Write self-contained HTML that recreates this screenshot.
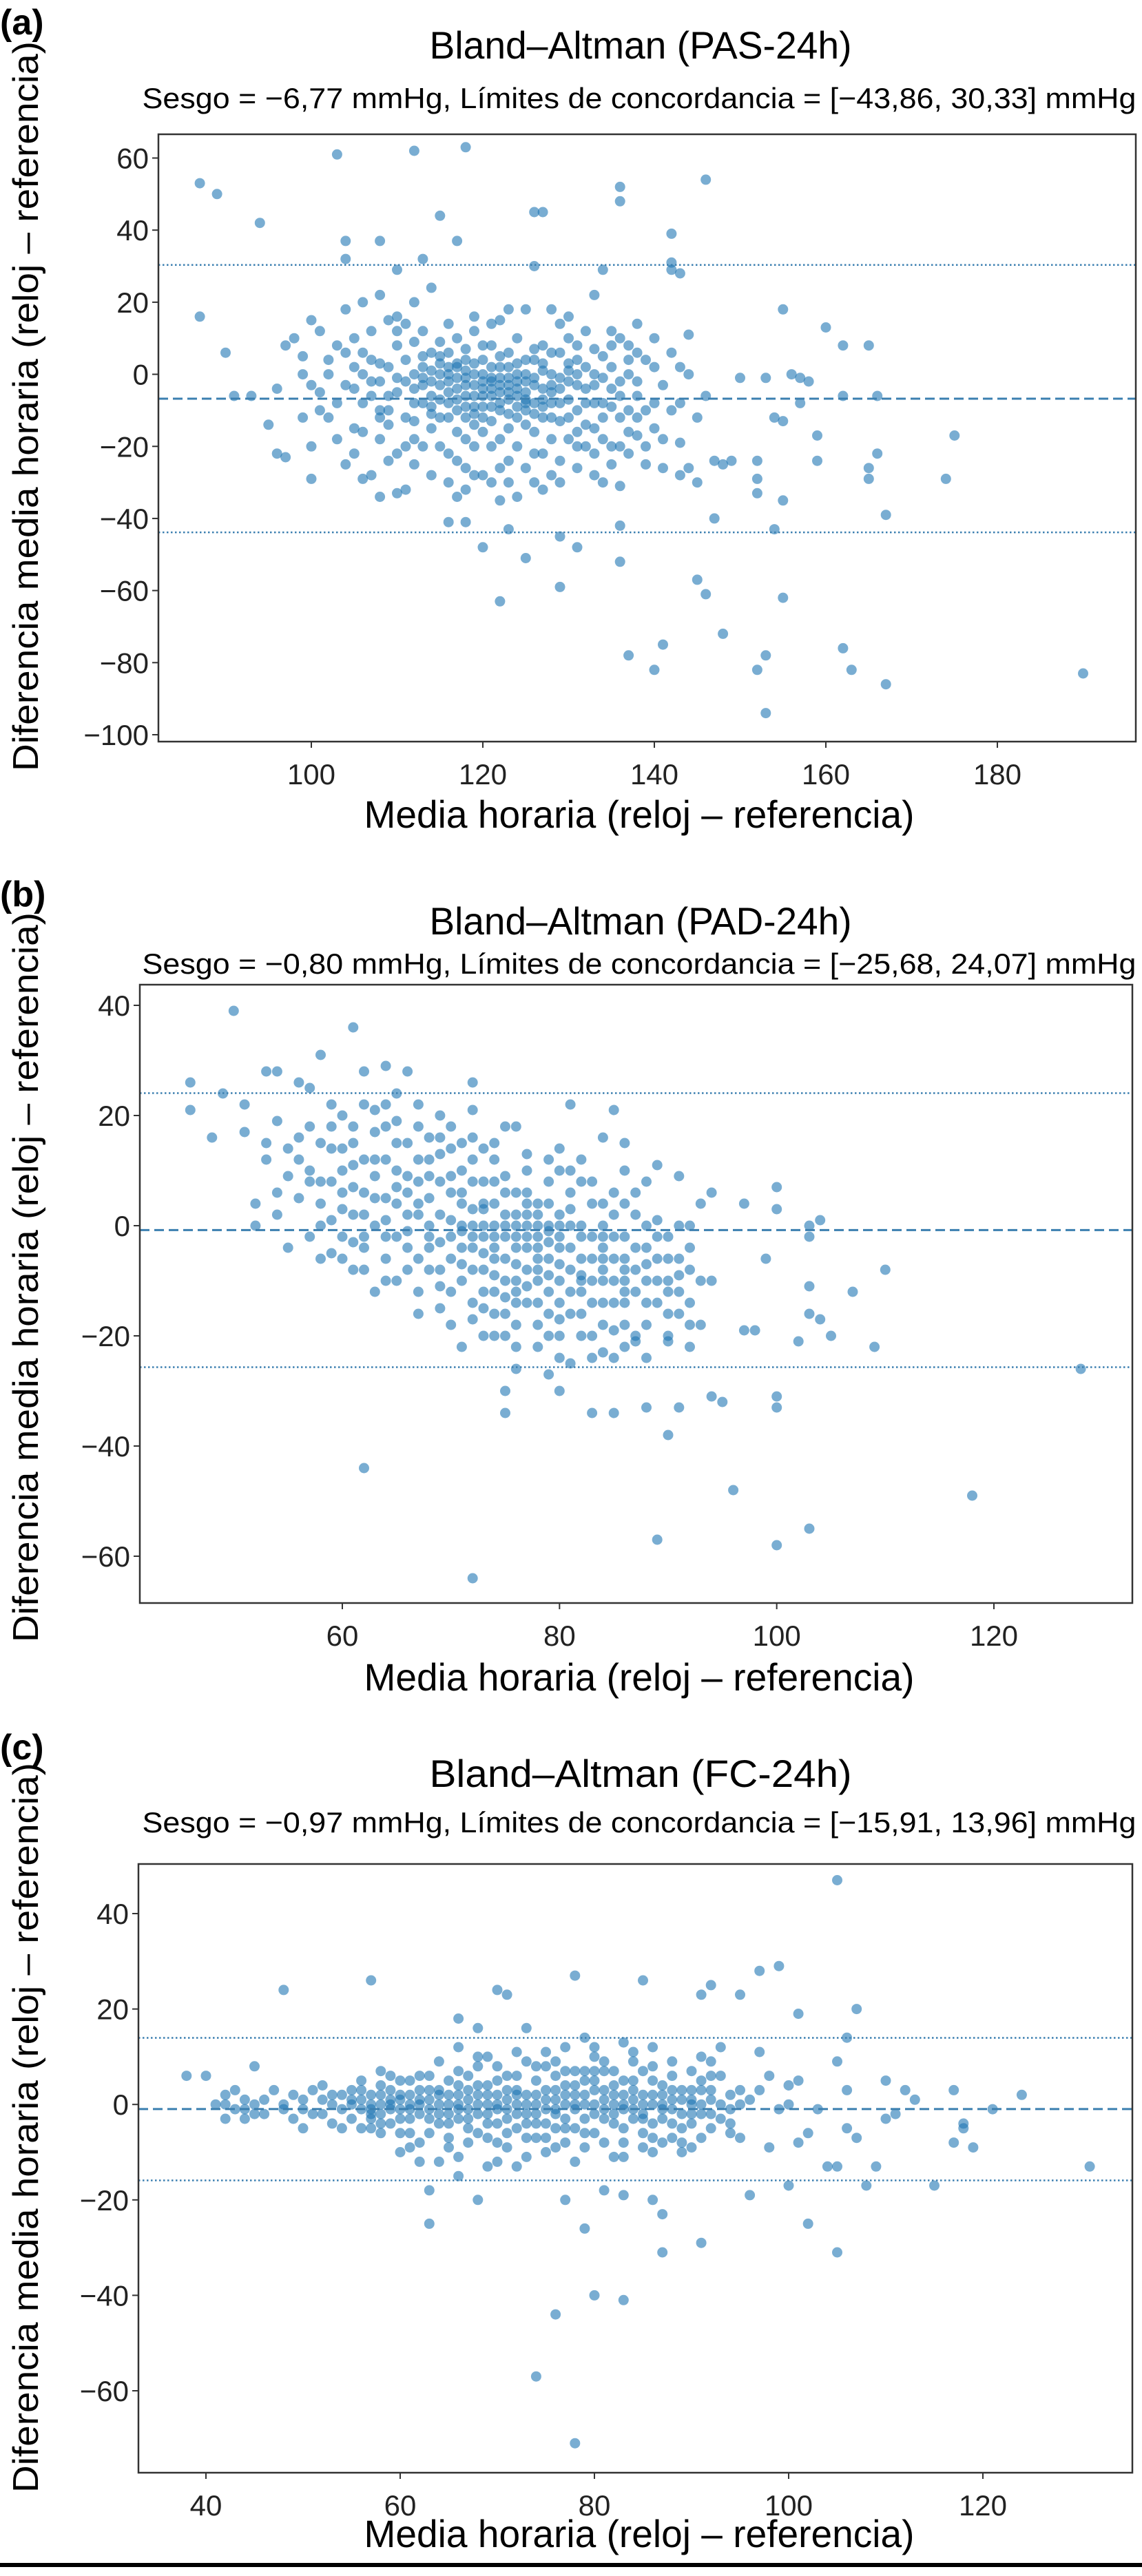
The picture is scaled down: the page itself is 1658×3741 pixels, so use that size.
<!DOCTYPE html>
<html><head><meta charset="utf-8"><style>
html,body{margin:0;padding:0;background:#fff;}
svg{display:block;font-family:"Liberation Sans",sans-serif;}
</style></head><body>
<svg id="fig" width="1658" height="3741" viewBox="0 0 1658 3741" xmlns="http://www.w3.org/2000/svg">
<rect x="0" y="0" width="1658" height="3741" fill="#fff"/>
<rect x="0" y="3722" width="1658" height="6" fill="#000"/>
</svg>
<script>
// ---------- Panel (a) PAS-24h ----------
const pasXTicks=[100,120,140,160,180];
const pasYTicks=[60,40,20,0,-20,-40,-60,-80,-100];
const pasStats=[-6.77,-43.86,30.33];
const pasPoints=[[87,53],[89,50],[94,42],[87,16],[90,6],[91,-6],[93,-6],[103,61],[112,62],[118,63],[115,44],[126,45],[127,45],[136,52],[136,48],[146,54],[142,39],[117,37],[108,37],[104,37],[104,32],[113,32],[142,31],[142,29],[143,28],[134,29],[126,30],[110,29],[155,18],[160,13],[162,8],[165,8],[175,-17],[174,-29],[167,-39],[166,-22],[165,-26],[165,-29],[159,-24],[159,-17],[157,-8],[155,-13],[154,-12],[153,-1],[156,0],[157,-1],[158,-2],[150,-1],[162,-6],[166,-6],[148,-25],[147,-40],[154,-43],[155,-35],[152,-33],[152,-24],[152,-29],[145,-57],[146,-61],[155,-62],[148,-72],[141,-75],[137,-78],[140,-82],[152,-82],[153,-78],[162,-76],[163,-82],[167,-86],[153,-94],[190,-83],[122,-63],[129,-59],[125,-51],[131,-48],[129,-45],[120,-48],[123,-43],[136,-42],[136,-52],[116,-41],[118,-41],[106,-29],[100,-29],[96,-22],[95,-14],[97,-23],[108,-34],[110,-33],[136,-31],[144,-26],[145,-30],[147,-24],[149,-24],[143,-28],[141,-26],[138,-17],[143,-19],
[98,10],[99,5],[100,15],[101,-5],[102,0],[102,-12],[103,8],[104,-3],[104,18],[105,2],[105,-15],[106,6],[106,-8],[107,12],[107,-2],[108,-18],[108,3],[109,15],[109,-6],[110,-22],[110,8],[110,-1],[111,-12],[111,4],[112,20],[112,-4],[112,-25],[113,2],[113,-8],[113,12],[114,-2],[114,-15],[114,6],[115,0],[115,-20],[115,9],[116,-5],[116,-30],[116,14],[117,-1],[117,-10],[117,3],[118,-3],[118,-18],[118,7],[118,-26],[119,0],[119,-6],[119,12],[120,-2],[120,-12],[120,4],[120,-28],[121,-4],[121,8],[121,-20],[122,-1],[122,-8],[122,15],[122,-35],[123,-3],[123,2],[123,-15],[123,-24],[124,0],[124,-6],[124,10],[125,-10],[125,-2],[125,18],[126,-16],[126,4],[126,-30],[127,-4],[127,-22],[127,8],[128,-12],[128,0],[128,-28],[129,6],[129,-8],[129,14],[130,-2],[130,-18],[130,3],[131,-10],[131,8],[131,-26],[132,-4],[132,12],[133,-15],[133,0],[133,22],[134,-8],[134,5],[134,-30],[135,-20],[135,2],[135,-4],[136,-12],[136,10],[137,-22],[137,0],[138,-6],[138,6],[139,-10],[139,-25],[140,2],[140,-15],[141,-3],[142,6],[143,-8],[144,0],[144,11],[145,-12],[146,-6],[96,-4],[97,8],[99,-12],[100,-20],[101,12],[103,-18],[104,-25],[105,10],[106,20],[107,-28],[108,22],[109,-10],[111,-32],[112,9],[113,-20],[114,24],[115,-12],[116,2],[117,-34],[118,-9],[119,-14],[120,8],[121,-1],[122,-5],[123,6],[124,-2],[125,-7],[126,-3],[127,1],[128,-5],[129,-1],[130,10],[131,-3],[132,-20],[133,-8],[134,-12],[135,-25],[136,-2],[137,-16],[138,14],[139,4],[119,-3],[120,-6],[121,-9],[122,2],[123,-11],[118,1],[117,-7],[124,-4],[125,4],[126,-8],[116,-12],[115,5],[114,-9],[113,-3],[112,-13]];
const pasExtra=[[113,-1],[113,5],[114,1],[114,-6],[115,-3],[115,3],[116,0],[116,-8],[116,6],[117,-4],[117,10],[117,-16],[118,-6],[118,4],[118,-12],[119,-9],[119,3],[119,-20],[120,0],[120,-4],[120,-16],[121,2],[121,-6],[121,-13],[122,-3],[122,5],[122,-18],[123,-1],[123,-7],[123,-30],[124,3],[124,-9],[124,-20],[125,0],[125,-5],[125,-14],[126,-1],[126,7],[126,-22],[127,-7],[127,-12],[127,3],[128,-3],[128,6],[128,-18],[129,-4],[129,-13],[129,-24],[130,-7],[130,1],[130,-12],[131,0],[131,-16],[131,4],[132,-8],[132,2],[132,-14],[133,-3],[133,7],[133,-22],[134,-1],[134,-18],[135,-9],[135,8],[136,-6],[136,-20],[137,-10],[137,4],[138,-2],[138,-12],[106,0],[107,-6],[107,4],[108,-2],[108,-10],[109,2],[109,-14],[110,-5],[110,12],[111,-2],[111,-20],[112,0],[112,-8],[105,-4],[104,6],[103,-8],[102,4],[101,-10],[100,-3],[99,0],[110,16],[111,14],[119,16],[121,14],[123,18],[128,18],[130,16],[117,-24],[119,-28],[121,-30],[125,-26],[127,-32],[129,-30],[131,-20],[133,-28],[124,-34],[114,-28],[112,-18],[109,-24],[108,-12],[106,-16],[105,-22],[116,-22],[118,-32],[122,-26],[139,-20],[140,-8],[141,-18],[142,-10],[140,10],[137,8],[135,12],[143,2],[114,-11],[115,-7],[116,-2],[117,2],[118,-1],[119,-11],[120,-9],[121,-2],[122,-10],[123,-5],[124,-12],[125,-8],[126,-11],[127,-9],[128,-8]];

// ---------- Panel (b) PAD-24h ----------
const padXTicks=[60,80,100,120];
const padYTicks=[40,20,0,-20,-40,-60];
const padStats=[-0.80,-25.68,24.07];
const padPoints=[[46,26],[46,21],[48,16],[49,24],[50,39],[51,22],[51,17],[52,4],[52,0],[53,15],[53,28],[54,28],[56,26],[58,31],[61,36],[62,28],[64,29],[72,26],[62,-44],[72,-64],[75,-34],[75,-30],[76,-26],[79,-27],[80,-30],[81,-25],[83,-34],[85,-34],[88,-33],[89,-57],[90,-38],[91,-33],[94,-31],[95,-32],[96,-48],[100,-58],[100,-33],[100,-31],[103,-55],[118,-49],[128,-26],[109,-22],[110,-8],[107,-12],[103,-11],[103,-16],[104,-17],[105,-20],[102,-21],[103,-2],[104,1],[103,0],[100,3],[100,7],[97,4],[98,-19],[99,-6],[97,-19],[94,6],[93,4],[93,-10],[94,-10],[92,-14],[92,-22],[90,-21],[88,-24],[87,-21],[86,-22],[85,-24],[84,-23],[89,11],[89,1],[91,9],[86,10],[85,21],[81,22],[80,14],[82,12],[84,16],[86,15],[72,21],[74,15],[76,18],
[56,5],[56,12],[57,-2],[57,18],[58,8],[58,0],[59,14],[59,-5],[60,10],[60,3],[60,20],[61,-3],[61,15],[62,6],[62,-8],[62,22],[63,12],[63,0],[64,18],[64,-6],[64,5],[65,10],[65,-10],[65,24],[66,2],[66,-4],[66,15],[67,8],[67,-12],[67,18],[68,0],[68,5],[68,-8],[68,12],[69,-3],[69,20],[69,-15],[70,6],[70,-6],[70,14],[70,-18],[71,0],[71,10],[71,-10],[72,3],[72,-4],[72,-14],[72,16],[73,0],[73,-8],[73,8],[73,-20],[74,-2],[74,4],[74,-12],[74,12],[75,-6],[75,2],[75,-16],[75,18],[76,-4],[76,6],[76,-10],[76,-22],[77,0],[77,-8],[77,10],[77,-14],[78,-2],[78,4],[78,-18],[79,-6],[79,8],[79,-12],[80,-4],[80,2],[80,-10],[80,-20],[81,-8],[81,0],[81,6],[82,-12],[82,-2],[82,-16],[83,-6],[83,4],[83,-20],[84,-10],[84,0],[84,-4],[85,-14],[85,-6],[85,6],[86,-12],[86,-2],[86,-18],[87,-8],[87,2],[88,-4],[88,-14],[89,-10],[90,-2],[90,-16],[91,-6],[91,-12],[92,0],[92,-8],[93,-18],[55,-4],[55,14],[54,6],[54,19],[53,12],[57,25],[59,22],[61,-8],[63,-12],[65,-2],[66,28],[67,-16],[69,8],[71,-22],[72,-8],[73,14],[74,-16],[76,0],[77,4],[78,-10],[79,-20],[80,10],[81,-16],[82,8],[83,-2],[84,-18],[86,4],[87,-20],[88,8],[89,-6],[90,-20],[91,0],[60,-2],[62,2],[64,-2],[66,9],[68,-2],[70,1],[72,8],[74,-6],[76,-14],[78,2],[80,-14],[82,-6],[84,-8],[86,-8],[71,4],[73,-2],[75,-10],[77,-4],[79,0],[58,-6],[61,7],[63,17],[65,4],[67,2],[69,-8],[70,-12],[71,-4]];
const padExtra=[[57,10],[58,15],[58,4],[59,8],[59,1],[60,6],[60,14],[61,2],[61,11],[62,-2],[62,12],[63,5],[63,9],[64,1],[64,12],[65,7],[65,15],[66,-1],[66,6],[67,4],[67,12],[68,9],[68,-4],[69,2],[69,13],[70,-2],[70,9],[71,6],[71,-7],[72,0],[72,12],[73,4],[73,-5],[73,-12],[74,0],[74,-9],[74,8],[75,-2],[75,6],[75,-13],[76,2],[76,-7],[76,-18],[77,-2],[77,-11],[77,6],[78,-6],[78,0],[78,-14],[79,-3],[79,-9],[79,4],[80,-7],[80,0],[80,-17],[81,-4],[81,-12],[81,3],[82,-9],[82,0],[82,-20],[83,-10],[83,-14],[84,-6],[84,-14],[84,4],[85,-10],[85,-2],[85,-19],[86,-6],[86,-14],[87,-4],[87,-12],[88,-10],[88,0],[88,-18],[89,-14],[89,-2],[90,-10],[90,-6],[91,-16],[91,-9],[92,-4],[92,-18],[63,21],[61,18],[65,19],[68,16],[70,18],[72,-17],[74,-20],[78,-22],[80,-24],[83,-24],[69,-11],[67,-6],[66,-8],[64,-10],[62,-4],[60,-6],[75,9],[77,13],[79,12],[81,10],[83,8],[85,2],[87,6],[71,15],[69,16],[67,22],[64,22],[59,18],[57,8],[56,16],[55,9],[54,2],[73,-15],[75,-20],[76,-12],[78,-8],[79,-16],[82,-10],[84,-2],[86,-10],[88,-7],[90,-12],[72,-2],[74,-4],[76,-2],[78,-4],[80,-2],[71,-1],[73,3],[75,0],[77,2],[79,-1]];

// ---------- Panel (c) FC-24h ----------
const fcXTicks=[40,60,80,100,120];
const fcYTicks=[40,20,0,-20,-40,-60];
const fcStats=[-0.97,-15.91,13.96];
const fcPoints=[[38,6],[40,6],[45,8],[48,24],[57,26],[70,24],[71,23],[78,27],[85,26],[91,23],[92,25],[95,23],[97,28],[99,29],[101,19],[105,47],[107,20],[106,14],[105,9],[106,3],[103,-1],[110,5],[112,3],[113,1],[117,3],[124,2],[121,-1],[118,-4],[117,-8],[118,-5],[119,-9],[111,-2],[109,-13],[108,-17],[110,-3],[115,-17],[131,-13],[104,-13],[105,-13],[105,-31],[102,-25],[100,-17],[96,-19],[91,-29],[87,-31],[87,-23],[86,-20],[83,-19],[81,-18],[79,-26],[80,-40],[83,-41],[76,-44],[74,-57],[78,-71],[77,-20],[68,-20],[66,-15],[63,-18],[63,-25],[66,18],[68,16],[73,16],[79,14],[83,13],[86,12],[93,12],[97,11],[98,6],[95,-7],[98,-9],[101,-8],[102,-6],[106,-5],[107,-7],[97,3],[100,4],[101,5],[100,0],[99,-1],
[41,0],[42,-3],[42,2],[43,-1],[44,1],[44,-3],[45,0],[46,-2],[48,0],[49,2],[50,-5],[50,-1],[51,3],[52,-2],[52,1],[53,0],[53,-4],[54,2],[54,-1],[55,3],[55,-3],[55,0],[56,1],[56,-5],[56,5],[57,-1],[57,2],[57,-3],[58,0],[58,4],[58,-2],[59,-4],[59,1],[59,3],[60,-1],[60,-6],[60,2],[61,0],[61,5],[61,-3],[62,-2],[62,3],[62,-8],[63,1],[63,-1],[63,6],[64,-4],[64,0],[64,3],[65,-2],[65,2],[65,-7],[66,0],[66,4],[66,-3],[67,-1],[67,6],[67,-5],[68,2],[68,-2],[68,8],[69,0],[69,-4],[69,4],[70,-1],[70,2],[70,-8],[71,1],[71,-3],[71,6],[72,0],[72,-5],[72,3],[73,-2],[73,2],[73,9],[74,0],[74,-4],[74,5],[75,-1],[75,3],[75,-7],[76,1],[76,-2],[76,6],[77,-3],[77,0],[77,4],[78,2],[78,-5],[78,-1],[79,0],[79,5],[79,-9],[80,-2],[80,3],[80,-6],[81,1],[81,-3],[81,7],[82,0],[82,-4],[82,4],[83,-1],[83,2],[83,-8],[84,1],[84,-3],[84,5],[85,-2],[85,0],[85,-6],[86,2],[86,-4],[87,0],[87,4],[87,-3],[88,-1],[88,3],[88,-7],[89,1],[89,-2],[90,3],[90,-4],[90,0],[91,5],[91,-2],[92,1],[92,-5],[93,0],[93,-3],[94,2],[94,-1],[95,0],[64,9],[66,12],[69,10],[72,11],[75,8],[78,-12],[81,9],[84,9],[88,9],[91,10],[60,-10],[70,-12],[73,-11],[82,-11],[86,-10],[62,-12],[76,-9],[79,7],[85,7],[89,-8],[57,-5],[59,6],[61,-6],[67,1],[68,-6],[70,5],[74,-7],[76,-5],[77,7],[80,7],[83,5],[86,-7],[71,-6],[65,5],[58,-6],[54,-5],[47,3],[45,-2],[43,3]];
const fcExtra=[[55,1],[56,-1],[56,3],[57,0],[57,-2],[58,2],[58,-4],[59,-1],[59,0],[60,1],[60,-3],[61,2],[61,-1],[62,0],[62,1],[63,-3],[63,3],[64,2],[64,-2],[65,0],[65,-4],[66,2],[66,-1],[67,3],[67,-3],[68,0],[68,4],[69,2],[69,-2],[70,0],[70,-4],[71,3],[71,-1],[72,2],[72,-2],[73,0],[73,-4],[74,2],[74,-2],[75,1],[75,-4],[76,3],[76,-1],[77,2],[77,-5],[78,0],[78,4],[79,2],[79,-3],[80,0],[80,5],[81,-1],[81,3],[82,2],[82,-2],[83,0],[83,-5],[84,3],[84,-1],[85,2],[85,-3],[86,0],[86,5],[87,-1],[87,2],[88,1],[88,-4],[89,3],[89,-5],[90,1],[90,-2],[91,0],[91,3],[92,-2],[92,3],[66,7],[68,10],[70,8],[72,6],[74,8],[76,9],[78,7],[80,10],[82,7],[84,11],[86,8],[88,6],[90,7],[92,6],[63,-6],[65,-9],[67,-8],[69,-7],[71,-9],[73,-7],[75,-10],[77,-8],[79,-6],[81,-8],[83,-11],[85,-9],[87,-8],[89,-10],[91,-7],[53,2],[52,4],[51,-2],[50,1],[49,-3],[48,-1],[46,1],[44,-1],[42,0],[94,-4],[95,3],[96,1],[93,6],[92,9],[90,-9],[94,-6],[62,6],[60,5],[58,7],[61,-9],[64,-12],[66,-11],[69,-13],[72,-13],[75,11],[77,12],[80,12]];

const NS="http://www.w3.org/2000/svg";
const svg=document.getElementById('fig');
function mk(tag,attrs,parent){const e=document.createElementNS(NS,tag);for(const k in attrs)e.setAttribute(k,attrs[k]);(parent||svg).appendChild(e);return e;}
function fmt(v){return v<0?'\u2212'+Math.abs(v):String(v);}

function drawPanel(id,letter,title,subtitle,box,xRef,yRef,xTicks,yTicks,stats,points,labelY,ylabCenter){
  const g=mk('g',{});
  
  
  const xs=v=>xRef.p0+(v-xRef.v0)*(xRef.p1-xRef.p0)/(xRef.v1-xRef.v0);
  const ys=v=>yRef.p0+(v-yRef.v0)*(yRef.p1-yRef.p0)/(yRef.v1-yRef.v0);
  const pl=mk('text',{x:0,y:labelY.panel,'font-size':52,'font-weight':'bold',fill:'#000'},g);
  pl.textContent='('+letter+')';
  
  
  const t=mk('text',{x:930,y:labelY.title,'font-size':56,'text-anchor':'middle',textLength:613,lengthAdjust:'spacingAndGlyphs',fill:'#000'},g);
  t.textContent=title;
  
  
  const st=mk('text',{x:928,y:labelY.sub,'font-size':42,'text-anchor':'middle',textLength:1443,lengthAdjust:'spacingAndGlyphs',fill:'#000'},g);
  st.textContent=subtitle;
  
  
  const cp=mk('clipPath',{id:'clip-'+id},g);
  mk('rect',{x:box.l,y:box.t,width:box.r-box.l,height:box.b-box.t},cp);
  const pg=mk('g',{'clip-path':'url(#clip-'+id+')'},g);
  
  
  points.forEach(p=>{
    const c=mk('circle',{cx:xs(p[0]).toFixed(1),cy:ys(p[1]).toFixed(1),r:7.5,fill:'#1f77b4','fill-opacity':0.6},pg);
    
    
  });
  const bias=mk('line',{x1:box.l,x2:box.r,y1:ys(stats[0]),y2:ys(stats[0]),stroke:'#3b7fb0','stroke-width':3,'stroke-dasharray':'14,7'},g);
  
  
  [stats[1],stats[2]].forEach((v,i)=>{
    const l=mk('line',{x1:box.l,x2:box.r,y1:ys(v),y2:ys(v),stroke:'#3b7fb0','stroke-width':2.5,'stroke-dasharray':'2.5,3.5'},g);
    
    
  });
  const fr=mk('rect',{x:box.l,y:box.t,width:box.r-box.l,height:box.b-box.t,fill:'none',stroke:'#333','stroke-width':2.5},g);
  
  
  xTicks.forEach(v=>{
    const x=xs(v);
    mk('line',{x1:x,x2:x,y1:box.b,y2:box.b+9,stroke:'#333','stroke-width':2},g);
    const tl=mk('text',{x:x,y:box.b+62,'font-size':42,'text-anchor':'middle',fill:'#222'},g);
    tl.textContent=fmt(v);
    
    
  });
  yTicks.forEach(v=>{
    const y=ys(v);
    mk('line',{x1:box.l-9,x2:box.l,y1:y,y2:y,stroke:'#333','stroke-width':2},g);
    const tl=mk('text',{x:box.l-14,y:y+15,'font-size':42,'text-anchor':'end',fill:'#222'},g);
    tl.textContent=fmt(v);
    
    
  });
  const xl=mk('text',{x:928,y:labelY.xlab,'font-size':56,'text-anchor':'middle',textLength:799,lengthAdjust:'spacingAndGlyphs',fill:'#000'},g);
  xl.textContent='Media horaria (reloj \u2013 referencia)';
  
  
  const yl=mk('text',{x:0,y:0,'font-size':52,'text-anchor':'middle',textLength:1060,lengthAdjust:'spacingAndGlyphs',fill:'#000',transform:'translate(55,'+ylabCenter+') rotate(-90)'},g);
  yl.textContent='Diferencia media horaria (reloj \u2013 referencia)';
  
  
}

drawPanel('a','a','Bland\u2013Altman (PAS-24h)','Sesgo = \u22126,77 mmHg, L\u00edmites de concordancia = [\u221243,86, 30,33] mmHg',
  {l:230,r:1649,t:195,b:1077},{v0:100,p0:452,v1:180,p1:1448},{v0:60,p0:229.5,v1:-100,p1:1067},
  pasXTicks,pasYTicks,pasStats,pasPoints.concat(pasExtra),{panel:50,title:85,sub:157,xlab:1202},590);
drawPanel('b','b','Bland\u2013Altman (PAD-24h)','Sesgo = \u22120,80 mmHg, L\u00edmites de concordancia = [\u221225,68, 24,07] mmHg',
  {l:203,r:1644,t:1430,b:2328},{v0:60,p0:497,v1:120,p1:1443},{v0:40,p0:1460,v1:-60,p1:2260},
  padXTicks,padYTicks,padStats,padPoints.concat(padExtra),{panel:1316,title:1357,sub:1414,xlab:2455},1855);
drawPanel('c','c','Bland\u2013Altman (FC-24h)','Sesgo = \u22120,97 mmHg, L\u00edmites de concordancia = [\u221215,91, 13,96] mmHg',
  {l:201,r:1644,t:2707,b:3591},{v0:40,p0:299,v1:120,p1:1427},{v0:40,p0:2779,v1:-60,p1:3472},
  fcXTicks,fcYTicks,fcStats,fcPoints.concat(fcExtra),{panel:2555,title:2595,sub:2661,xlab:3699},3090);
</script>
</body></html>
